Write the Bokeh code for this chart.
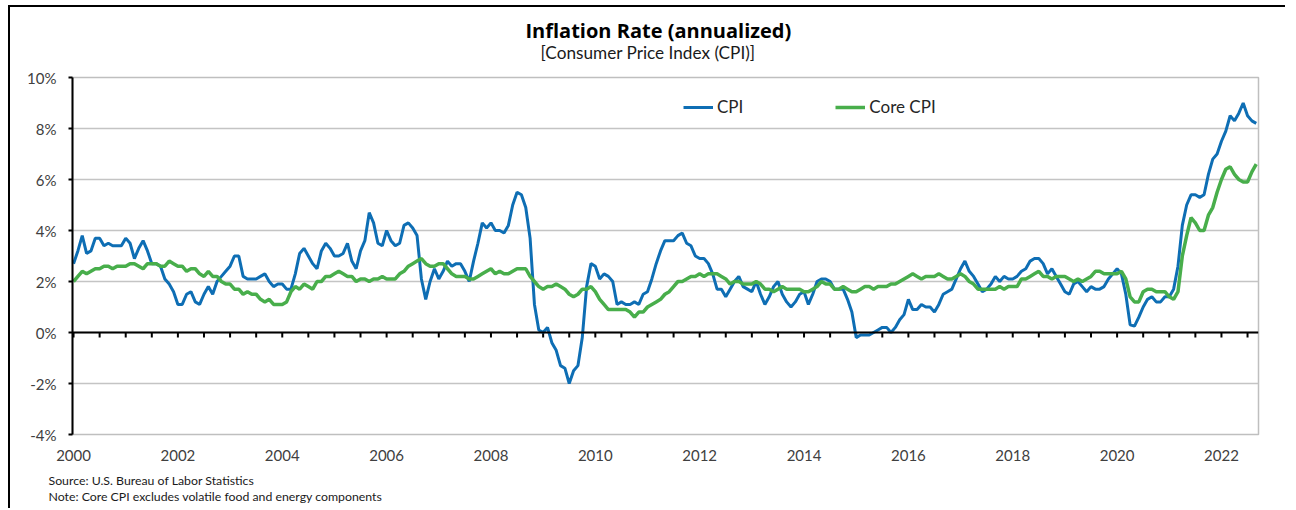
from bokeh.plotting import figure
from bokeh.models import (Range1d, FixedTicker, PrintfTickFormatter, Legend,
                          LegendItem, Title, Span)
from bokeh.embed import file_html
from bokeh.resources import INLINE

# ---------------- data (annual % change, monthly, Jan 2000 - Sep 2022) ----------------
cpi_values = [
    # 2000
    2.7, 3.2, 3.8, 3.1, 3.2, 3.7, 3.7, 3.4, 3.5, 3.4, 3.4, 3.4,
    # 2001
    3.7, 3.5, 2.9, 3.3, 3.6, 3.2, 2.7, 2.7, 2.6, 2.1, 1.9, 1.6,
    # 2002
    1.1, 1.1, 1.5, 1.6, 1.2, 1.1, 1.5, 1.8, 1.5, 2.0, 2.2, 2.4,
    # 2003
    2.6, 3.0, 3.0, 2.2, 2.1, 2.1, 2.1, 2.2, 2.3, 2.0, 1.8, 1.9,
    # 2004
    1.9, 1.7, 1.7, 2.3, 3.1, 3.3, 3.0, 2.7, 2.5, 3.2, 3.5, 3.3,
    # 2005
    3.0, 3.0, 3.1, 3.5, 2.8, 2.5, 3.2, 3.6, 4.7, 4.3, 3.5, 3.4,
    # 2006
    4.0, 3.6, 3.4, 3.5, 4.2, 4.3, 4.1, 3.8, 2.1, 1.3, 2.0, 2.5,
    # 2007
    2.1, 2.4, 2.8, 2.6, 2.7, 2.7, 2.4, 2.0, 2.8, 3.5, 4.3, 4.1,
    # 2008
    4.3, 4.0, 4.0, 3.9, 4.2, 5.0, 5.5, 5.4, 4.9, 3.7, 1.1, 0.1,
    # 2009
    0.0, 0.2, -0.4, -0.7, -1.3, -1.4, -2.0, -1.5, -1.3, -0.2, 1.8, 2.7,
    # 2010
    2.6, 2.1, 2.3, 2.2, 2.0, 1.1, 1.2, 1.1, 1.1, 1.2, 1.1, 1.5,
    # 2011
    1.6, 2.1, 2.7, 3.2, 3.6, 3.6, 3.6, 3.8, 3.9, 3.5, 3.4, 3.0,
    # 2012
    2.9, 2.9, 2.7, 2.3, 1.7, 1.7, 1.4, 1.7, 2.0, 2.2, 1.8, 1.7,
    # 2013
    1.6, 2.0, 1.5, 1.1, 1.4, 1.8, 2.0, 1.5, 1.2, 1.0, 1.2, 1.5,
    # 2014
    1.6, 1.1, 1.5, 2.0, 2.1, 2.1, 2.0, 1.7, 1.7, 1.7, 1.3, 0.8,
    # 2015
    -0.2, -0.1, -0.1, -0.1, 0.0, 0.1, 0.2, 0.2, 0.0, 0.2, 0.5, 0.7,
    # 2016
    1.3, 0.9, 0.9, 1.1, 1.0, 1.0, 0.8, 1.1, 1.5, 1.6, 1.7, 2.1,
    # 2017
    2.5, 2.8, 2.4, 2.2, 1.9, 1.6, 1.7, 1.9, 2.2, 2.0, 2.2, 2.1,
    # 2018
    2.1, 2.2, 2.4, 2.5, 2.8, 2.9, 2.9, 2.7, 2.3, 2.5, 2.2, 1.9,
    # 2019
    1.6, 1.5, 1.9, 2.0, 1.8, 1.6, 1.8, 1.7, 1.7, 1.8, 2.1, 2.3,
    # 2020
    2.5, 2.3, 1.5, 0.3, 0.25, 0.6, 1.0, 1.3, 1.4, 1.2, 1.2, 1.4,
    # 2021
    1.4, 1.7, 2.6, 4.2, 5.0, 5.4, 5.4, 5.3, 5.4, 6.2, 6.8, 7.0,
    # 2022
    7.5, 7.9, 8.5, 8.3, 8.6, 9.0, 8.5, 8.3, 8.2,
]

core_values = [
    # 2000
    2.0, 2.2, 2.4, 2.3, 2.4, 2.5, 2.5, 2.6, 2.6, 2.5, 2.6, 2.6,
    # 2001
    2.6, 2.7, 2.7, 2.6, 2.5, 2.7, 2.7, 2.7, 2.6, 2.6, 2.8, 2.7,
    # 2002
    2.6, 2.6, 2.4, 2.5, 2.5, 2.3, 2.2, 2.4, 2.2, 2.2, 2.0, 1.9,
    # 2003
    1.9, 1.7, 1.7, 1.5, 1.6, 1.5, 1.5, 1.3, 1.2, 1.3, 1.1, 1.1,
    # 2004
    1.1, 1.2, 1.6, 1.8, 1.7, 1.9, 1.8, 1.7, 2.0, 2.0, 2.2, 2.2,
    # 2005
    2.3, 2.4, 2.3, 2.2, 2.2, 2.0, 2.1, 2.1, 2.0, 2.1, 2.1, 2.2,
    # 2006
    2.1, 2.1, 2.1, 2.3, 2.4, 2.6, 2.7, 2.8, 2.9, 2.7, 2.6, 2.6,
    # 2007
    2.7, 2.7, 2.5, 2.3, 2.2, 2.2, 2.2, 2.1, 2.1, 2.2, 2.3, 2.4,
    # 2008
    2.5, 2.3, 2.4, 2.3, 2.3, 2.4, 2.5, 2.5, 2.5, 2.2, 2.0, 1.8,
    # 2009
    1.7, 1.8, 1.8, 1.9, 1.8, 1.7, 1.5, 1.4, 1.5, 1.7, 1.7, 1.8,
    # 2010
    1.6, 1.3, 1.1, 0.9, 0.9, 0.9, 0.9, 0.9, 0.8, 0.6, 0.8, 0.8,
    # 2011
    1.0, 1.1, 1.2, 1.3, 1.5, 1.6, 1.8, 2.0, 2.0, 2.1, 2.2, 2.2,
    # 2012
    2.3, 2.2, 2.3, 2.3, 2.3, 2.2, 2.1, 1.9, 2.0, 2.0, 1.9, 1.9,
    # 2013
    1.9, 2.0, 1.9, 1.7, 1.7, 1.6, 1.7, 1.8, 1.7, 1.7, 1.7, 1.7,
    # 2014
    1.6, 1.6, 1.7, 1.8, 2.0, 1.9, 1.9, 1.7, 1.7, 1.8, 1.7, 1.6,
    # 2015
    1.6, 1.7, 1.8, 1.8, 1.7, 1.8, 1.8, 1.8, 1.9, 1.9, 2.0, 2.1,
    # 2016
    2.2, 2.3, 2.2, 2.1, 2.2, 2.2, 2.2, 2.3, 2.2, 2.1, 2.1, 2.2,
    # 2017
    2.3, 2.2, 2.0, 1.9, 1.7, 1.7, 1.7, 1.7, 1.7, 1.8, 1.7, 1.8,
    # 2018
    1.8, 1.8, 2.1, 2.1, 2.2, 2.3, 2.4, 2.2, 2.2, 2.1, 2.2, 2.2,
    # 2019
    2.2, 2.1, 2.0, 2.1, 2.0, 2.1, 2.2, 2.4, 2.4, 2.3, 2.3, 2.3,
    # 2020
    2.3, 2.4, 2.1, 1.4, 1.2, 1.2, 1.6, 1.7, 1.7, 1.6, 1.6, 1.6,
    # 2021
    1.4, 1.3, 1.6, 3.0, 3.8, 4.5, 4.3, 4.0, 4.0, 4.6, 4.9, 5.5,
    # 2022
    6.0, 6.4, 6.5, 6.2, 6.0, 5.9, 5.9, 6.3, 6.6,
]

start_year = 2000
x_tick_labels = list(range(2000, 2023, 2))
y_ticks = [-4, -2, 0, 2, 4, 6, 8, 10]
series_names = ["CPI", "Core CPI"]
title_text = "Inflation Rate (annualized)"
subtitle_text = "[Consumer Price Index (CPI)]"
source_text = "Source: U.S. Bureau of Labor Statistics"
note_text = "Note: Core CPI excludes volatile food and energy components"

months = [start_year + i / 12 for i in range(len(cpi_values))]
half_years = [start_year + k / 2 for k in range(0, 46)]

FONT = "Lato"
BLUE = "#0E6EB4"
GREEN = "#48AE4B"
X0, X1 = 1999.98, 2022.71
Y0, Y1 = -4, 10
TICK_LEN = 5 * (Y1 - Y0) / 357.0   # 5 px expressed in data units

p = figure(width=1277, height=503, output_backend="svg", toolbar_location=None,
           x_range=Range1d(X0, X1), y_range=Range1d(Y0, Y1),
           min_border_left=62, min_border_right=29, min_border_top=70,
           min_border_bottom=76, background_fill_color="white",
           border_fill_color="white")
p.styles = {"margin-left": "8px", "margin-top": "5px",
            "border-top": "2px solid black", "border-left": "2px solid black"}

p.outline_line_color = "#BFBFBF"
p.outline_line_width = 1.5

# grid
p.xgrid.visible = False
p.ygrid.ticker = FixedTicker(ticks=y_ticks)
p.ygrid.grid_line_color = "#C4C4C4"
p.ygrid.grid_line_width = 1.5

# y axis
ya = p.yaxis[0]
ya.ticker = FixedTicker(ticks=y_ticks)
ya.formatter = PrintfTickFormatter(format="%d%%")
ya.axis_line_color = "black"
ya.axis_line_width = 2
ya.major_tick_out = 4
ya.major_tick_in = 0
ya.major_tick_line_width = 2
ya.minor_tick_out = 0
ya.minor_tick_in = 0
ya.major_label_standoff = 12
ya.major_label_text_font = FONT
ya.major_label_text_font_size = "15px"
ya.major_label_text_color = "#404040"

# bottom labels axis
xa = p.xaxis[0]
xa.ticker = FixedTicker(ticks=x_tick_labels)
xa.formatter = PrintfTickFormatter(format="%d")
xa.axis_line_color = None
xa.major_tick_line_color = None
xa.major_tick_out = 0
xa.major_tick_in = 0
xa.minor_tick_out = 0
xa.minor_tick_in = 0
xa.major_label_standoff = 15
xa.major_label_text_font = FONT
xa.major_label_text_font_size = "15px"
xa.major_label_text_color = "#404040"

# zero line with half-year tick marks
p.segment(x0=half_years, y0=[0] * len(half_years), x1=half_years,
          y1=[-TICK_LEN] * len(half_years), line_color="black", line_width=2)
p.add_layout(Span(location=0, dimension="width", line_color="black", line_width=2))

# series
r_cpi = p.line(months, cpi_values, line_color=BLUE, line_width=3)
r_core = p.line(months, core_values, line_color=GREEN, line_width=3.5)

legend = Legend(items=[LegendItem(label=series_names[0], renderers=[r_cpi]),
                       LegendItem(label=series_names[1], renderers=[r_core])],
                orientation="horizontal", location=(611, 317),
                glyph_width=30, glyph_height=20, label_height=20,
                label_standoff=4, spacing=92, padding=0, margin=0,
                border_line_alpha=0, background_fill_alpha=0,
                label_text_font=FONT, label_text_font_size="17px",
                label_text_color="#262626")
p.add_layout(legend)

# titles: p.title is outermost, the added subtitle sits nearest the frame
p.title.text = title_text
p.title.align = "left"
p.title.offset = 453
p.title.text_font = "Open Sans"
p.title.text_font_style = "bold"
p.title.text_font_size = "20px"
p.title.text_color = "black"
p.title.vertical_align = "bottom"
p.title.standoff = -29

subtitle = Title(text=subtitle_text, align="left", offset=468, text_font=FONT,
                 text_font_style="normal", text_font_size="17.2px",
                 text_color="#1a1a1a", vertical_align="top", standoff=25)
p.add_layout(subtitle, "above")

# footnotes below the axis labels
src = Title(text=source_text, align="left", offset=-24, text_font=FONT,
            text_font_style="normal", text_font_size="12.3px",
            text_color="#1a1a1a", standoff=15)
note = Title(text=note_text, align="left", offset=-24, text_font=FONT,
             text_font_style="normal", text_font_size="12.3px",
             text_color="#1a1a1a", standoff=-17)
p.add_layout(src, "below")
p.add_layout(note, "below")

open("out.html", "w").write(file_html(p, INLINE))
